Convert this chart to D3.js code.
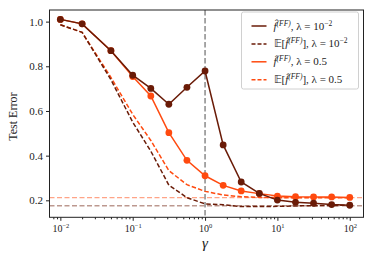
<!DOCTYPE html>
<html>
<head>
<meta charset="utf-8">
<script src="https://cdn.jsdelivr.net/npm/d3@7"></script>
<style>
  body { margin: 0; background: #fff; }
  svg { display: block; }
  .axis text { font-family: "Liberation Serif", serif; font-size: 11px; fill: #222; }
  .axis path, .axis line { stroke: #222; }
</style>
</head>
<body>
<div id="chart"></div>
<script>
// gamma values on the x axis
var gammas = [0.01, 0.02, 0.05, 0.1, 0.178, 0.316, 0.562, 1, 1.78, 3.16, 5.62, 10, 17.8, 31.6, 56.2, 100];

// test error, lambda = 1e-2
var errSmall = [1.010, 0.990, 0.870, 0.760, 0.701, 0.630, 0.706, 0.779, 0.448, 0.282, 0.231, 0.201, 0.191, 0.187, 0.181, 0.178];
var expSmall = [0.986, 0.952, 0.740, 0.550, 0.420, 0.268, 0.212, 0.184, 0.180, 0.172, 0.172, 0.173, 0.175, 0.176, 0.177, 0.178];

// test error, lambda = 0.5
var errLarge = [1.010, 0.990, 0.870, 0.754, 0.667, 0.503, 0.379, 0.310, 0.267, 0.242, 0.230, 0.219, 0.216, 0.215, 0.215, 0.213];
var expLarge = [0.986, 0.952, 0.750, 0.585, 0.468, 0.333, 0.270, 0.240, 0.224, 0.216, 0.213, 0.212, 0.212, 0.212, 0.212, 0.212];

// asymptotes
var limitSmall = 0.176;
var limitLarge = 0.212;

var yTicks = [0.2, 0.4, 0.6, 0.8, 1.0];
var xMajor = [0.01, 0.1, 1, 10, 100];
var xExp = ["-2", "-1", "0", "1", "2"];

var colors = {
  small: '#6a1b07',
  large: '#ff4a0f'
};

var W = 374, H = 258;
var margin = { top: 10, right: 10.5, bottom: 40.7, left: 49.5 };
var width = W - margin.left - margin.right;
var height = H - margin.top - margin.bottom;

var svg = d3.select("#chart").append("svg")
  .attr("width", W)
  .attr("height", H);

var g = svg.append("g")
  .attr("transform", "translate(" + margin.left + "," + margin.top + ")");

var x = d3.scaleLog().domain([Math.pow(10, -2.15), Math.pow(10, 2.19)]).range([0, width]);
var y = d3.scaleLinear().domain([0.124, 1.052]).range([height, 0]);

// minor ticks
g.append("g")
  .attr("class", "axis")
  .attr("transform", "translate(0," + height + ")")
  .call(d3.axisBottom(x)
    .tickValues(x.ticks().filter(function(t) { return xMajor.indexOf(t) < 0; }))
    .tickSize(2)
    .tickFormat(""))
  .call(function(a) { a.select(".domain").remove(); });

// major ticks
var xAxis = g.append("g")
  .attr("class", "axis")
  .attr("transform", "translate(0," + height + ")")
  .call(d3.axisBottom(x).tickValues(xMajor).tickSize(3.5).tickPadding(3).tickFormat(""));
xAxis.select(".domain").remove();
xAxis.selectAll(".tick").append("text")
  .attr("y", 14.5)
  .attr("text-anchor", "middle")
  .attr("fill", "#222")
  .style("font-family", '"Liberation Serif", serif')
  .style("font-size", "10px")
  .each(function(d, i) {
    var t = d3.select(this);
    t.append("tspan").text("10");
    t.append("tspan").attr("dy", -4).style("font-size", "6.5px").text(xExp[i].replace("-", "\u2212"));
  });

var yAxis = g.append("g")
  .attr("class", "axis")
  .call(d3.axisLeft(y).tickValues(yTicks).tickSize(3.5).tickPadding(3).tickFormat(d3.format(".1f")));
yAxis.select(".domain").remove();

// asymptote lines
g.append("line")
  .attr("x1", 0).attr("x2", width)
  .attr("y1", y(limitLarge)).attr("y2", y(limitLarge))
  .attr("stroke", colors.large).attr("stroke-opacity", 0.5)
  .attr("stroke-width", 1.3).attr("stroke-dasharray", "5,2.5");
g.append("line")
  .attr("x1", 0).attr("x2", width)
  .attr("y1", y(limitSmall)).attr("y2", y(limitSmall))
  .attr("stroke", colors.small).attr("stroke-opacity", 0.45)
  .attr("stroke-width", 1.5).attr("stroke-dasharray", "5,2.5");

// gamma = 1
g.append("line")
  .attr("x1", x(1)).attr("x2", x(1))
  .attr("y1", 0).attr("y2", height)
  .attr("stroke", "#8a8a8a").attr("stroke-width", 1.5)
  .attr("stroke-dasharray", "5.5,2.5");

var line = d3.line()
  .x(function(d) { return x(d[0]); })
  .y(function(d) { return y(d[1]); });

function zip(vals) { return gammas.map(function(gm, i) { return [gm, vals[i]]; }); }

var series = [
  { vals: expLarge, color: colors.large, dash: true },
  { vals: expSmall, color: colors.small, dash: true },
  { vals: errLarge, color: colors.large, dash: false },
  { vals: errSmall, color: colors.small, dash: false }
];

series.forEach(function(s) {
  g.append("path")
    .datum(zip(s.vals))
    .attr("fill", "none")
    .attr("stroke", s.color)
    .attr("stroke-width", 1.5)
    .attr("stroke-dasharray", s.dash ? "4.5,2.2" : null)
    .attr("d", line);
  if (!s.dash) {
    g.selectAll(null)
      .data(zip(s.vals))
      .enter().append("circle")
      .attr("cx", function(d) { return x(d[0]); })
      .attr("cy", function(d) { return y(d[1]); })
      .attr("r", 3.4)
      .attr("fill", s.color);
  }
});

// frame
g.append("rect")
  .attr("width", width).attr("height", height)
  .attr("fill", "none").attr("stroke", "#222").attr("stroke-width", 1);

// axis labels
svg.append("text")
  .attr("transform", "translate(17," + (margin.top + height / 2 + 3) + ") rotate(-90)")
  .attr("text-anchor", "middle")
  .style("font-family", '"Liberation Serif", serif')
  .style("font-size", "12px")
  .attr("fill", "#222")
  .text("Test Error");

svg.append("text")
  .attr("x", margin.left + x(1))
  .attr("y", 248)
  .attr("text-anchor", "middle")
  .style("font-family", '"Liberation Serif", serif')
  .style("font-style", "italic")
  .style("font-size", "15px")
  .attr("fill", "#222")
  .text("\u03b3");

// legend
var legend = svg.append("g").attr("transform", "translate(241.5,12)");
legend.append("rect")
  .attr("width", 117).attr("height", 77).attr("rx", 2)
  .attr("fill", "#fff").attr("fill-opacity", 0.85)
  .attr("stroke", "#d0d0d0").attr("stroke-width", 1);

var legendItems = [
  { color: colors.small, dash: false, expect: false, lam: "small" },
  { color: colors.small, dash: true, expect: true, lam: "small" },
  { color: colors.large, dash: false, expect: false, lam: "large" },
  { color: colors.large, dash: true, expect: true, lam: "large" }
];

legendItems.forEach(function(it, i) {
  var row = legend.append("g").attr("transform", "translate(0," + (14 + i * 17.9) + ")");
  row.append("line")
    .attr("x1", 10).attr("x2", 25)
    .attr("stroke", it.color).attr("stroke-width", 1.5)
    .attr("stroke-dasharray", it.dash ? "4,2" : null);
  var t = row.append("text")
    .attr("x", 32).attr("y", 3.5)
    .style("font-family", '"Liberation Serif", serif')
    .style("font-size", "11px")
    .attr("fill", "#222");
  if (it.expect) t.append("tspan").text("\ud835\udd3c[");
  t.append("tspan").style("font-style", "italic").text("f\u0302");
  t.append("tspan").attr("dy", -4).style("font-size", "7.5px").style("font-style", "italic").text("(FF)");
  t.append("tspan").attr("dy", 4).text((it.expect ? "]" : "") + ", \u03bb = " + (it.lam == "small" ? "10" : "0.5"));
  if (it.lam == "small") {
    t.append("tspan").attr("dy", -4).style("font-size", "7.5px").text("\u22122");
  }
});
</script>
</body>
</html>
